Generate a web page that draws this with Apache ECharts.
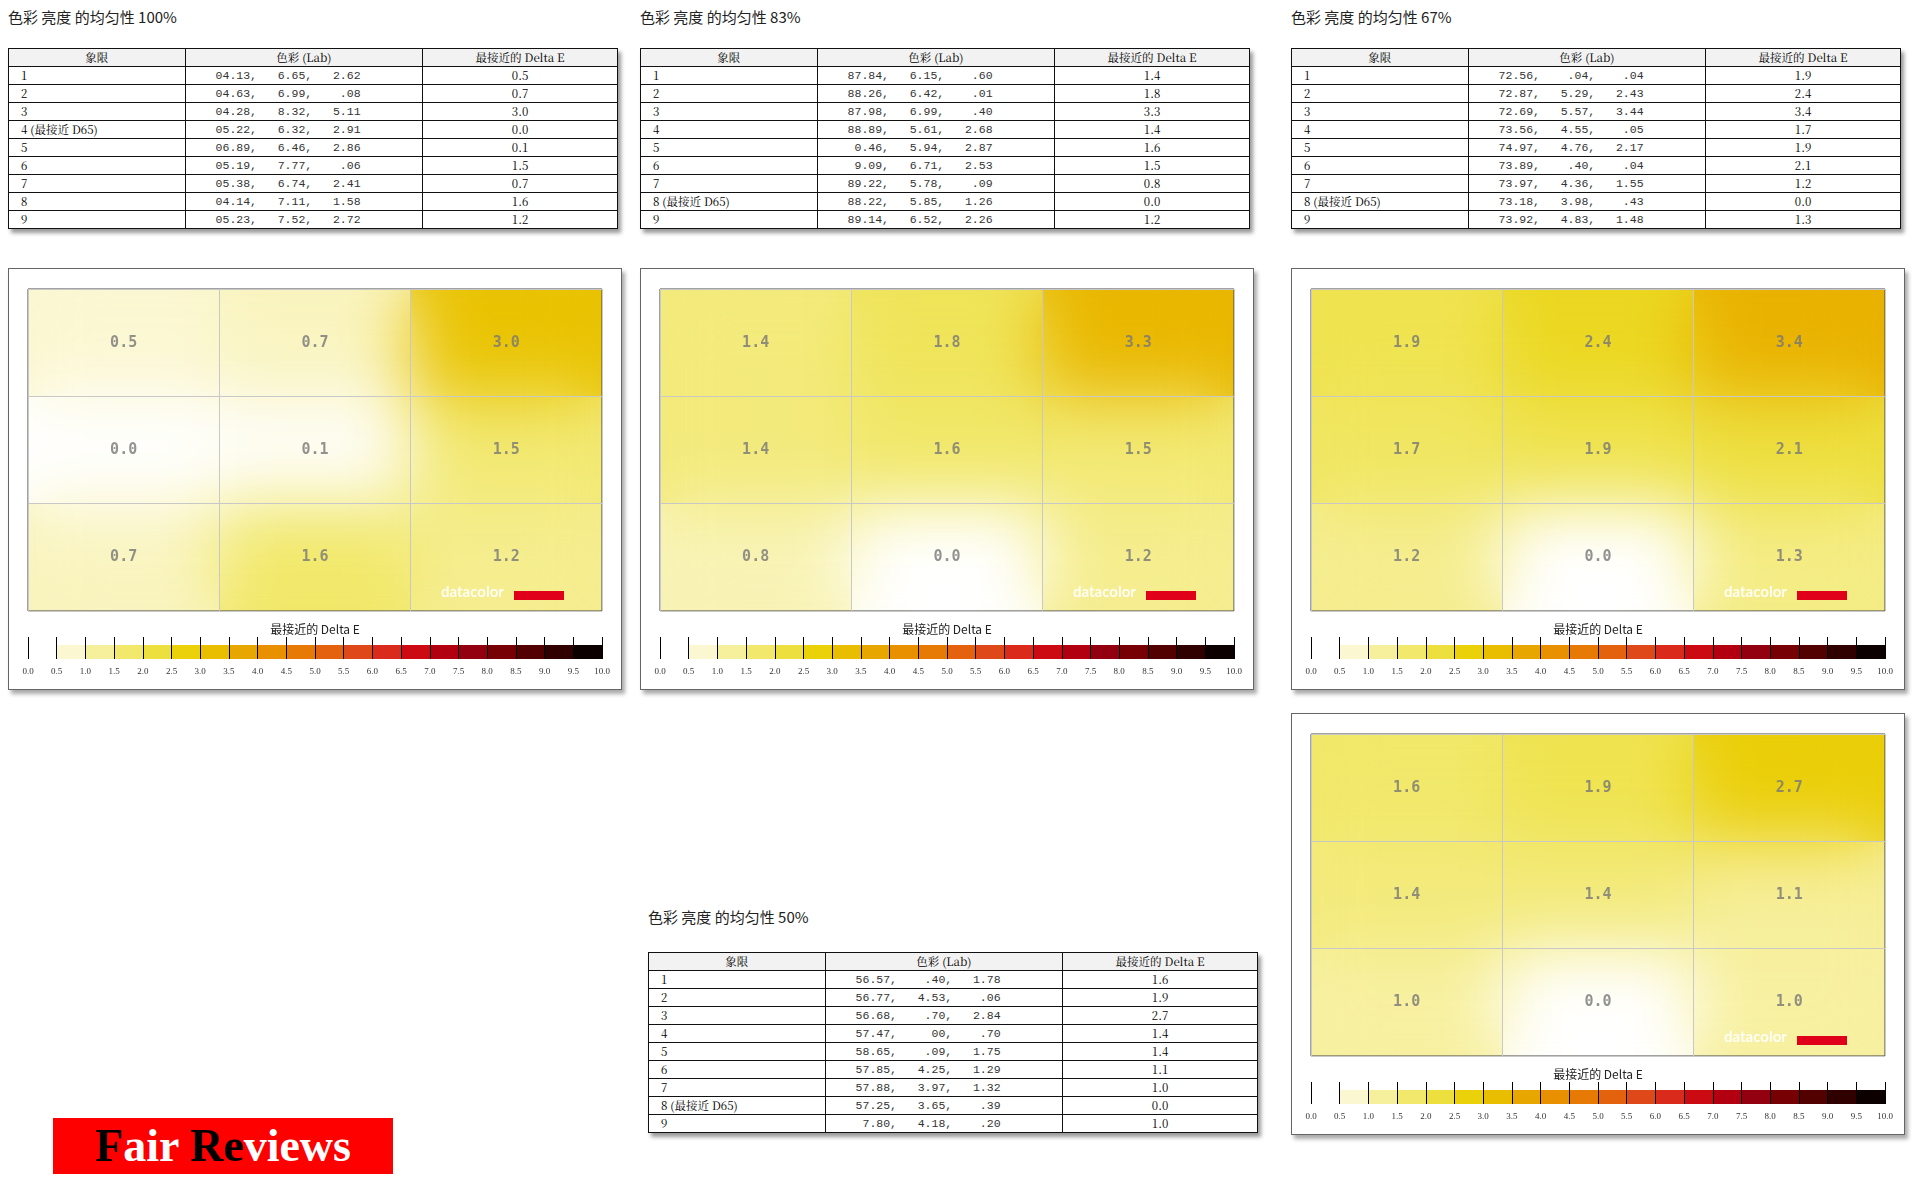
<!DOCTYPE html>
<html>
<head>
<meta charset="utf-8">
<script src="https://cdn.jsdelivr.net/npm/echarts@6/dist/echarts.min.js"></script>
<style>
  body { margin:0; width:1920px; height:1200px; background:#fff; position:relative; overflow:hidden;
         font-family:"Noto Sans CJK SC","Noto Sans",sans-serif; }
  .title { position:absolute; font-size:15px; color:#222; }
  table.q { position:absolute; border-collapse:collapse; width:610px; font-size:11.5px;
            font-family:"Noto Serif CJK SC","Noto Sans CJK SC",serif; box-shadow:3px 4px 4px #999; background:#fff; }
  table.q td, table.q th { border:1px solid #111; height:17px; padding:0 0 0 12px; line-height:17px; font-weight:normal; }
  table.q th { background:#f2f2f2; text-align:center; padding:0; }
  table.q td.c { text-align:center; padding:0; }
  table.q td.lab { font-family:"Liberation Mono","DejaVu Sans Mono",monospace; white-space:pre; padding-left:30px; color:#333; }
  .box { position:absolute; width:612px; height:420px; border:1px solid #666; background:#fff; box-shadow:3px 4px 4px #aaa; }
  .field { position:absolute; left:19px; top:20px; width:574px; height:322px; overflow:hidden; }
  .field div.layer { position:absolute; left:0; top:0; width:574px; height:322px; }
  .field div.soft { filter:blur(34px); }
  .over { position:absolute; left:0; top:0; width:612px; height:420px; }
  .logo { position:absolute; left:53px; top:1118px; width:340px; height:56px; background:#f00;
          font-family:"Liberation Serif",serif; font-weight:bold; font-size:46px; line-height:56px; text-align:center; color:#fff; }
  .logo b { color:#000; }
</style>
</head>
<body>
<div class="logo"><b>F</b>air <b>Re</b>views</div>
<script>
// quadrant labels and measured values per brightness level
var levels = ['100%', '83%', '67%', '50%'];
var quadrantNames = [
  ['1','2','3','4 (最接近 D65)','5','6','7','8','9'],
  ['1','2','3','4','5','6','7','8 (最接近 D65)','9'],
  ['1','2','3','4','5','6','7','8 (最接近 D65)','9'],
  ['1','2','3','4','5','6','7','8 (最接近 D65)','9']
];
var lab100 = ['04.13,   6.65,   2.62','04.63,   6.99,    .08','04.28,   8.32,   5.11','05.22,   6.32,   2.91','06.89,   6.46,   2.86','05.19,   7.77,    .06','05.38,   6.74,   2.41','04.14,   7.11,   1.58','05.23,   7.52,   2.72'];
var lab83  = ['87.84,   6.15,    .60','88.26,   6.42,    .01','87.98,   6.99,    .40','88.89,   5.61,   2.68',' 0.46,   5.94,   2.87',' 9.09,   6.71,   2.53','89.22,   5.78,    .09','88.22,   5.85,   1.26','89.14,   6.52,   2.26'];
var lab67  = ['72.56,    .04,    .04','72.87,   5.29,   2.43','72.69,   5.57,   3.44','73.56,   4.55,    .05','74.97,   4.76,   2.17','73.89,    .40,    .04','73.97,   4.36,   1.55','73.18,   3.98,    .43','73.92,   4.83,   1.48'];
var lab50  = ['56.57,    .40,   1.78','56.77,   4.53,    .06','56.68,    .70,   2.84','57.47,     00,    .70','58.65,    .09,   1.75','57.85,   4.25,   1.29','57.88,   3.97,   1.32','57.25,   3.65,    .39',' 7.80,   4.18,    .20'];
var de100 = [0.5, 0.7, 3.0, 0.0, 0.1, 1.5, 0.7, 1.6, 1.2];
var de83  = [1.4, 1.8, 3.3, 1.4, 1.6, 1.5, 0.8, 0.0, 1.2];
var de67  = [1.9, 2.4, 3.4, 1.7, 1.9, 2.1, 1.2, 0.0, 1.3];
var de50  = [1.6, 1.9, 2.7, 1.4, 1.4, 1.1, 1.0, 0.0, 1.0];
var labs = [lab100, lab83, lab67, lab50];
var deltas = [de100, de83, de67, de50];
var scaleSteps = [0,0.5,1,1.5,2,2.5,3,3.5,4,4.5,5,5.5,6,6.5,7,7.5,8,8.5,9,9.5];
var scaleColors = ['#ffffff','#fbf7d0','#f6ef9c','#f1e86c','#eddf3e','#ead10a','#e9bd00','#e8a600','#e89000','#e77a04','#e4620e','#df4818','#d92a1c','#cc0a12','#b20010','#930010','#760004','#520000','#300000','#0c0000'];

var tablePos = [[8,48],[640,48],[1291,48],[648,952]];
var titleY = [6,6,6,906];
var boxPos = [[8,268],[640,268],[1291,268],[1291,713]];

levels.forEach(function (lv, k) {
  var t = document.createElement('div');
  t.className = 'title';
  t.style.left = tablePos[k][0] + 'px'; t.style.top = titleY[k] + 'px';
  t.textContent = '色彩 亮度 的均匀性 ' + lv;
  document.body.appendChild(t);

  var tb = document.createElement('table');
  tb.className = 'q';
  tb.style.left = tablePos[k][0] + 'px'; tb.style.top = tablePos[k][1] + 'px';
  var html = '<colgroup><col style="width:29%"><col style="width:39%"><col style="width:32%"></colgroup>' +
    '<tr><th>象限</th><th>色彩 (Lab)</th><th>最接近的 Delta E</th></tr>';
  for (var i = 0; i < 9; i++) {
    html += '<tr><td>' + quadrantNames[k][i] + '</td><td class="lab">' + labs[k][i] + '</td><td class="c">' + deltas[k][i].toFixed(1) + '</td></tr>';
  }
  tb.innerHTML = html;
  document.body.appendChild(tb);

  var box = document.createElement('div');
  box.className = 'box';
  box.style.left = boxPos[k][0] + 'px'; box.style.top = boxPos[k][1] + 'px';
  box.innerHTML = '<div class="field"><div class="layer"></div><div class="layer soft"></div></div><div class="over"></div>';
  document.body.appendChild(box);
  var layers = box.querySelectorAll('.layer');
  drawField(layers[0], deltas[k]);
  drawField(layers[1], deltas[k]);
  drawMap(box.querySelector('.over'), deltas[k]);
});

function toCells(vals) {
  return vals.map(function (v, i) { return [i % 3, 2 - Math.floor(i / 3), v]; });
}

// colour field only (sharp + blurred copy gives the soft look)
function drawField(el, vals) {
  var chart = echarts.init(el);
  chart.setOption({
    animation: false,
    grid: { left: 0, top: 0, right: 0, bottom: 0 },
    xAxis: { type: 'category', data: ['a','b','c'], show: false },
    yAxis: { type: 'category', data: ['a','b','c'], show: false },
    visualMap: { show: false, min: 0, max: 10, inRange: { color: scaleColors } },
    series: [{ type: 'heatmap', data: toCells(vals) }]
  });
}

function drawMap(el, vals) {
  var chart = echarts.init(el);
  var bar = scaleSteps.map(function (s, i) { return [s, i]; });
  chart.setOption({
    animation: false,
    grid: [
      { left: 19, top: 20, width: 574, height: 322, show: true, borderColor: '#444', borderWidth: 1 },
      { left: 19, top: 376, width: 574, height: 14 }
    ],
    xAxis: [
      { gridIndex: 0, type: 'category', data: ['a','b','c'], axisLine: { show: false }, axisTick: { show: false },
        axisLabel: { show: false }, splitLine: { show: true, interval: 0, lineStyle: { color: '#c8c8c8' } } },
      { gridIndex: 1, type: 'value', min: 0, max: 10, interval: 0.5, z: 5,
        axisLine: { show: false }, splitLine: { show: false },
        axisTick: { show: true, inside: true, length: 22, lineStyle: { color: '#000' } },
        axisLabel: { fontSize: 9, color: '#333', margin: 8, fontFamily: 'Liberation Serif', formatter: function (v) { return v.toFixed(1); } } }
    ],
    yAxis: [
      { gridIndex: 0, type: 'category', data: ['a','b','c'], axisLine: { show: false }, axisTick: { show: false },
        axisLabel: { show: false }, splitLine: { show: true, interval: 0, lineStyle: { color: '#c8c8c8' } } },
      { gridIndex: 1, type: 'value', min: 0, max: 1, show: false }
    ],
    graphic: [
      { type: 'text', left: 'center', top: 354, style: { text: '最接近的 Delta E', font: '12px "Noto Sans CJK SC"', fill: '#222' } },
      { type: 'text', left: 432, top: 316, z: 10, style: { text: 'datacolor', font: 'bold 15px Lato', fill: 'rgba(255,255,255,0.9)' } },
      { type: 'rect', left: 505, top: 322, z: 10, shape: { width: 50, height: 9 }, style: { fill: '#e0001a' } }
    ],
    series: [
      { type: 'scatter', xAxisIndex: 0, yAxisIndex: 0, data: toCells(vals), symbolSize: 0,
        label: { show: true, position: 'inside', color: '#777', fontSize: 15, fontWeight: 'bold', fontFamily: 'DejaVu Sans Mono',
                 formatter: function (p) { return p.value[2].toFixed(1); } } },
      { type: 'custom', xAxisIndex: 1, yAxisIndex: 1, z: 1, data: bar,
        renderItem: function (params, api) {
          var p0 = api.coord([api.value(0), 1]);
          var p1 = api.coord([api.value(0) + 0.5, 0]);
          return { type: 'rect', shape: { x: p0[0], y: p0[1], width: p1[0] - p0[0] + 0.5, height: p1[1] - p0[1] },
                   style: { fill: scaleColors[api.value(1)] } };
        } }
    ]
  });
}
</script>
</body>
</html>
